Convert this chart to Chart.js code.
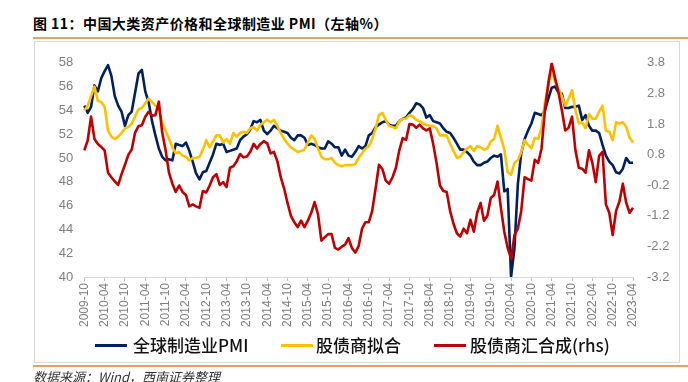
<!DOCTYPE html>
<html><head><meta charset="utf-8">
<script src="https://cdn.jsdelivr.net/npm/chart.js@4.4.1/dist/chart.umd.min.js"></script>
<style>
body{margin:0;width:688px;height:382px;background:#fff;position:relative;overflow:hidden;font-family:"Noto Sans CJK SC",sans-serif;}
#title{position:absolute;left:33px;top:13px;line-height:20px;font-size:14px;font-weight:bold;color:#000;white-space:nowrap;letter-spacing:0.45px;}
#tline{position:absolute;left:33px;top:37px;width:655px;height:2px;background:#DFA657;}
#box{position:absolute;left:34px;top:41px;width:646px;height:322px;border:1px solid #d9d9d9;box-sizing:border-box;}
#c{position:absolute;left:34px;top:41px;}
#bline{position:absolute;left:33px;top:365px;width:655px;height:2px;background:#DFA657;}
#src{position:absolute;left:33px;top:368px;line-height:18px;font-size:13px;font-style:italic;color:#333;white-space:nowrap;}
.lg{position:absolute;top:335px;line-height:20px;font-size:17px;font-weight:500;color:#111;white-space:nowrap;}
.ls{position:absolute;top:344px;height:3px;width:32px;}
</style></head>
<body>
<div id="title">图 11：中国大类资产价格和全球制造业 PMI（左轴%）</div>
<div id="tline"></div>
<div id="box"></div>
<canvas id="c" width="646" height="322" style="width:646px;height:322px"></canvas>
<div class="ls" style="left:95px;background:#002060"></div><div class="lg" style="left:133px">全球制造业PMI</div>
<div class="ls" style="left:281px;background:#FFC000"></div><div class="lg" style="left:316px">股债商拟合</div>
<div class="ls" style="left:434px;background:#C00000"></div><div class="lg" style="left:470px">股债商汇合成(rhs)</div>
<div id="bline"></div>
<div id="src">数据来源：Wind，西南证券整理</div>
<script>
const startYear = 2009, startMonth = 10, monthCount = 163;
const leftTicks = {min: 40, max: 58, step: 2};
const rightTicks = {min: -3.2, max: 3.8, step: 1};
const seriesNames = ["全球制造业PMI", "股债商拟合", "股债商汇合成(rhs)"];

const pmi = [54.4,53.8,54.3,56.1,55.6,56.7,57.3,57.8,56.9,55.2,54.4,53.9,52.7,53.6,53.9,55.5,57.1,57.4,55.6,54.7,
53.1,51.9,50.8,50.1,49.8,49.9,49.8,51.2,51.1,51.0,51.3,50.6,49.7,48.7,48.2,48.8,48.9,49.6,50.3,51.2,
51.1,51.2,50.5,50.6,50.7,50.8,51.5,51.8,52.0,52.4,53.1,53.0,53.2,52.3,52.0,52.3,52.7,52.5,52.3,52.2,
52.1,51.7,51.5,51.9,51.9,51.7,51.1,51.2,51.1,50.9,50.8,50.8,51.4,51.2,50.9,50.9,50.2,50.7,50.2,50.1,
50.5,51.0,50.8,51.0,51.9,52.1,52.6,52.8,53.0,53.1,52.8,52.7,52.7,53.1,53.3,53.4,53.8,54.1,54.6,54.5,
54.2,53.4,53.6,53.1,53.0,52.9,52.5,52.2,52.1,51.7,51.2,50.7,50.7,50.5,50.2,49.7,49.4,49.4,49.6,49.7,
50.0,50.2,50.1,50.3,47.2,47.4,40.0,42.4,47.8,50.4,51.6,52.3,52.9,53.8,53.7,53.6,54.0,55.0,55.9,56.0,
55.5,55.4,54.2,54.2,54.3,54.3,54.4,53.2,53.6,52.7,52.3,52.3,52.1,51.1,50.2,49.7,49.4,48.8,48.7,49.1,
50.0,49.6,49.6];

const fit = [54.0,54.4,55.2,56.0,54.8,54.7,54.3,52.3,51.8,51.6,51.8,52.1,52.5,52.6,52.9,53.5,54.1,54.2,54.6,55.0,
54.7,54.4,54.2,52.9,52.3,51.6,50.9,50.4,50.5,50.2,50.1,49.8,50.0,50.0,50.1,50.7,51.5,50.9,51.4,51.9,
51.9,51.3,51.6,51.2,52.1,51.8,52.1,52.2,52.1,52.5,52.6,52.3,52.8,53.0,53.2,53.0,53.2,52.7,52.1,51.6,
51.2,50.9,50.7,50.5,50.6,50.7,51.3,51.9,51.6,50.8,50.1,49.9,49.9,50.0,49.6,49.4,49.3,49.4,49.4,49.4,
49.5,50.0,50.4,50.8,51.0,51.6,52.5,53.6,53.8,53.2,52.7,52.6,52.5,53.1,53.3,53.3,53.6,53.5,53.2,53.1,
52.9,52.8,52.7,52.7,52.5,51.9,51.9,51.9,51.2,50.6,50.0,50.1,50.5,50.8,51.0,50.6,51.0,50.9,50.7,50.8,
51.4,51.6,52.7,51.7,50.7,48.8,48.6,49.6,49.8,50.5,51.5,51.1,50.8,51.7,51.6,52.5,54.7,56.0,57.5,56.4,
55.8,55.2,54.4,55.0,55.7,54.0,52.9,53.0,52.5,53.7,53.3,53.3,53.9,54.4,52.3,52.2,51.5,53.0,52.9,53.0,
52.6,51.7,51.3];

const composite = [0.94,1.26,2.04,1.31,1.15,1.05,0.94,0.21,0.06,-0.08,-0.19,0.16,0.47,0.79,0.97,1.52,1.73,1.76,2.04,2.20,
2.07,2.09,2.53,1.52,0.94,0.21,-0.15,-0.42,-0.21,-0.42,-0.52,-0.89,-0.83,-0.89,-0.94,-0.39,-0.44,-0.21,0.06,0.16,
-0.19,-0.10,-0.26,0.37,0.42,0.58,0.82,0.71,0.74,0.89,1.15,1.00,1.15,1.24,1.17,0.84,0.89,0.58,0.06,-0.31,
-0.78,-1.20,-1.41,-1.57,-1.36,-1.57,-1.36,-1.10,-0.75,-1.15,-2.01,-1.90,-1.80,-1.80,-2.25,-2.30,-2.21,-2.14,-1.93,-2.25,
-2.40,-2.19,-1.62,-1.41,-1.41,-1.04,-0.31,0.47,0.33,-0.05,-0.15,0.06,0.37,0.94,1.34,1.28,1.80,1.78,1.68,1.78,
1.66,1.59,1.66,1.15,0.53,-0.21,-0.39,-0.42,-1.04,-1.46,-1.77,-1.88,-1.62,-1.77,-1.33,-1.72,-1.10,-0.78,-1.36,-1.20,
-0.62,-0.52,-0.08,-0.94,-1.72,-2.25,-2.61,-1.83,-1.62,-1.04,0.06,0.00,-0.05,0.63,0.53,1.00,2.25,3.14,3.79,3.30,
2.83,2.25,1.59,1.68,2.04,0.94,0.37,0.34,0.21,0.94,0.53,-0.10,0.76,0.89,-0.83,-1.10,-1.83,-1.04,-0.73,-0.15,
-0.78,-1.10,-0.94];

const labels = [];
for (let k = 0; k < monthCount; k++) {
  const t = (startMonth - 1) + k;
  const y = startYear + Math.floor(t / 12), m = (t % 12) + 1;
  labels.push(y + "-" + String(m).padStart(2, "0"));
}

const tickFont = {family: "'Liberation Sans', Arial, sans-serif", size: 13};
new Chart(document.getElementById("c"), {
  type: "line",
  data: {
    labels: labels,
    datasets: [
      {label: seriesNames[0], data: pmi, borderColor: "#002060", yAxisID: "y", order: 3},
      {label: seriesNames[1], data: fit, borderColor: "#FFC000", yAxisID: "y", order: 2},
      {label: seriesNames[2], data: composite, borderColor: "#C00000", yAxisID: "y1", order: 1}
    ]
  },
  options: {
    responsive: false,
    animation: false,
    events: [],
    layout: {padding: {top: 13, left: 0, right: 0, bottom: 0}},
    elements: {line: {borderWidth: 2.6, tension: 0, borderJoinStyle: "round"}, point: {radius: 0}},
    plugins: {legend: {display: false}, tooltip: {enabled: false}},
    scales: {
      x: {
        offset: false,
        grid: {display: true, drawOnChartArea: false, drawTicks: true, tickLength: 4, color: "#bfbfbf"},
        border: {display: true, color: "#d9d9d9", width: 1},
        ticks: {
          autoSkip: false, maxRotation: 90, minRotation: 90, padding: 2,
          color: "#7f7f7f", font: {family: "'Liberation Sans', Arial, sans-serif", size: 12},
          callback: function(v, i) { return i % 6 === 0 ? this.getLabelForValue(v) : null; }
        },
        afterFit: s => { s.height = 86; }
      },
      y: {
        position: "left", min: leftTicks.min, max: leftTicks.max,
        grid: {display: false, drawTicks: false}, border: {display: false},
        ticks: {stepSize: leftTicks.step, padding: 11, color: "#7f7f7f", font: tickFont},
        afterFit: s => { s.width = 50.3; }
      },
      y1: {
        position: "right", min: rightTicks.min, max: rightTicks.max,
        grid: {display: false, drawTicks: false}, border: {display: false},
        ticks: {stepSize: rightTicks.step, padding: 14, color: "#7f7f7f", font: tickFont,
          callback: v => Number(v).toFixed(1)},
        afterFit: s => { s.width = 47; }
      }
    }
  }
});
</script>
</body></html>
